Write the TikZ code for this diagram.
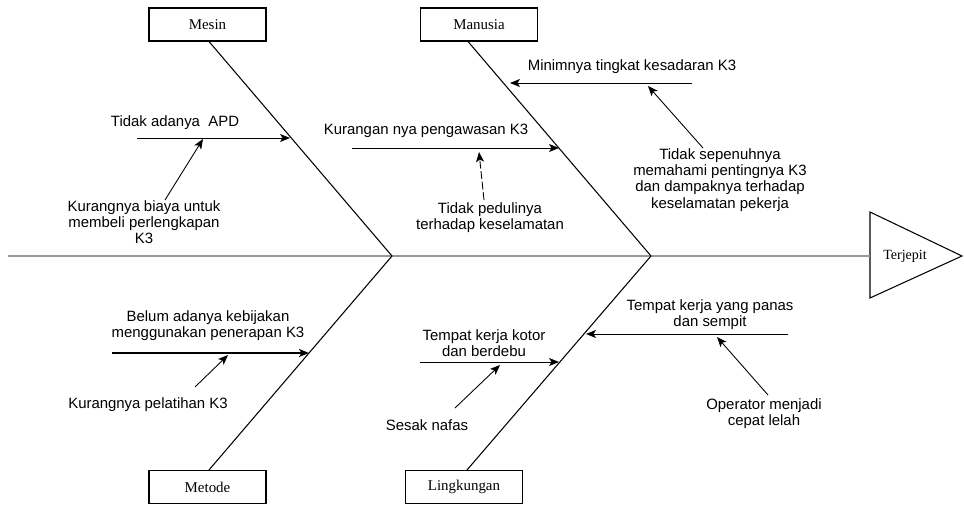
\documentclass[tikz,border=0pt]{standalone}
\usepackage{fontspec}
\setmainfont{Liberation Serif}
\setsansfont{Liberation Sans}
\usetikzlibrary{arrows.meta}

\begin{document}
\begin{tikzpicture}[
    x=0.02cm, y=-0.02cm,
    % Category boxes
    kat/.style={
        draw, fill=white, line width=0.6pt,
        font=\fontsize{8.5}{9}\selectfont,
        minimum width=2.34cm, minimum height=0.66cm,
        inner sep=0pt
    },
    % Cause texts
    teks/.style={
        font=\sffamily\fontsize{8.5}{9.2}\selectfont,
        align=center, inner sep=0pt
    },
    tulang/.style={draw, line width=0.6pt},
    duri/.style={draw, line width=0.5pt, -{Stealth[length=2mm, width=1.6mm, inset=0.5mm]}},
    duriputus/.style={duri, dash pattern={on 4.5pt off 1.5pt}}
]
\useasboundingbox (0,0) rectangle (964,506);

% ---- HEAD AND SPINE ----
\draw[line width=0.6pt] (870,212) -- (962,256) -- (870,298) -- cycle;
\node[font=\fontsize{8}{9}\selectfont] (kepala) at (905,256) {Terjepit};

\coordinate (ekor)    at (8, 256);
\coordinate (masuk)   at (870, 256);
\coordinate (sendi1)  at (392, 256);
\coordinate (sendi2)  at (651, 256);
\draw[draw=black!40, line width=0.7pt] (ekor) -- (masuk);

% ---- CATEGORIES ----
\node[kat] (mesin)   at (207.5, 24.5) {Mesin};
\node[kat] (manusia) at (479, 24.5)   {Manusia};
\node[kat] (metode)  at (207.5, 487)  {Metode};
\node[kat] (lingk)   at (464, 487)    {Lingkungan};

\draw[tulang] ([xshift=0.03cm]mesin.south)    -- (sendi1);
\draw[tulang] ([xshift=0.03cm]metode.north)   -- (sendi1);
\draw[tulang] ([xshift=-0.22cm]manusia.south) -- (sendi2);
\draw[tulang] ([xshift=0.06cm]lingk.north)    -- (sendi2);

% ---- MESIN ----
\node[teks] (m1)  at (175, 123) {Tidak adanya\ \ APD};
\node[teks] (m1a) at (144, 222) {Kurangnya biaya untuk\\membeli perlengkapan\\K3};

\coordinate (m1_s)  at (137, 138);
\coordinate (m1_e)  at (290, 138);
\coordinate (m1a_s) at (165, 200);
\coordinate (m1a_e) at (203, 139);
\draw[duri] (m1_s)  -- (m1_e);
\draw[duri] (m1a_s) -- (m1a_e);

% ---- MANUSIA ----
\node[teks] (h1)  at (426, 131) {Kurangan nya pengawasan K3};
\node[teks] (h1a) at (490, 218) {Tidak pedulinya\\terhadap keselamatan};
\node[teks] (h2)  at (632, 67)  {Minimnya tingkat kesadaran K3};
\node[teks] (h2a) at (720, 180) {Tidak sepenuhnya\\memahami pentingnya K3\\dan dampaknya terhadap\\keselamatan pekerja};

\coordinate (h1_s)  at (352, 148);
\coordinate (h1_e)  at (559, 148);
\coordinate (h1a_s) at (484, 200);
\coordinate (h1a_e) at (479, 152);
\coordinate (h2_s)  at (692, 83);
\coordinate (h2_e)  at (510, 83);
\coordinate (h2a_s) at (703, 148);
\coordinate (h2a_e) at (648, 86);
\draw[duri]      (h1_s)  -- (h1_e);
\draw[duriputus] (h1a_s) -- (h1a_e);
\draw[duri]      (h2_s)  -- (h2_e);
\draw[duri]      (h2a_s) -- (h2a_e);

% ---- METODE ----
\node[teks] (t1)  at (208, 326) {Belum adanya kebijakan\\menggunakan penerapan K3};
\node[teks] (t1a) at (148, 405) {Kurangnya pelatihan K3};

\coordinate (t1_s)  at (112, 353);
\coordinate (t1_e)  at (309, 353);
\coordinate (t1a_s) at (195, 387);
\coordinate (t1a_e) at (228, 355);
\draw[duri, line width=0.9pt] (t1_s) -- (t1_e);
\draw[duri] (t1a_s) -- (t1a_e);

% ---- LINGKUNGAN ----
\node[teks] (l1)  at (484, 343) {Tempat kerja kotor\\dan berdebu};
\node[teks] (l1a) at (427, 425) {Sesak nafas};
\node[teks] (l2)  at (710, 315) {Tempat kerja yang panas\\dan sempit};
\node[teks] (l2a) at (764, 414) {Operator menjadi\\cepat lelah};

\coordinate (l1_s)  at (420, 362);
\coordinate (l1_e)  at (559, 362);
\coordinate (l1a_s) at (455, 408);
\coordinate (l1a_e) at (500, 365);
\coordinate (l2_s)  at (788, 334);
\coordinate (l2_e)  at (586, 334);
\coordinate (l2a_s) at (768, 395);
\coordinate (l2a_e) at (717, 337);
\draw[duri] (l1_s)  -- (l1_e);
\draw[duri] (l1a_s) -- (l1a_e);
\draw[duri] (l2_s)  -- (l2_e);
\draw[duri] (l2a_s) -- (l2a_e);

\end{tikzpicture}
\end{document}
